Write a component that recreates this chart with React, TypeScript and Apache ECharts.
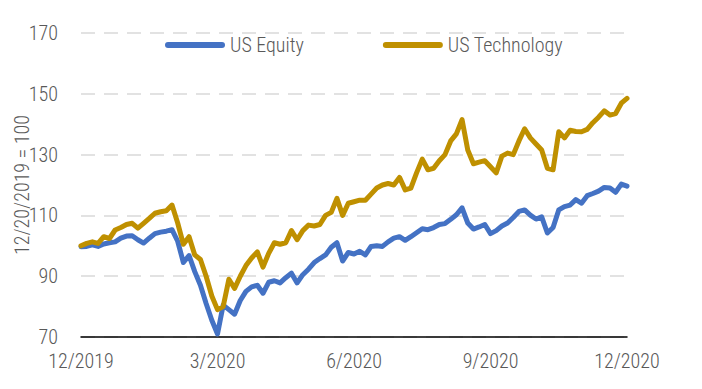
import React, { useEffect, useRef } from "react";
import * as echarts from "echarts";

const tickLabels = ["12/2019", "3/2020", "6/2020", "9/2020", "12/2020"];
const yTicks = [70, 90, 110, 130, 150, 170];

const usEquity = [
  99.7, 99.8, 100.3, 99.8, 100.6, 101, 101.3, 102.5, 103.2, 103.3,
  102, 100.9, 102.5, 104, 104.5, 104.8, 105.3, 101.5, 94.5, 96.8,
  91.5, 87, 81, 75.5, 71, 80.5, 79, 77.5, 82, 85,
  86.5, 87, 84.4, 88, 88.5, 87.8, 89.5, 91, 87.8, 90.5,
  92.3, 94.5, 95.8, 97, 99.5, 101, 95, 97.8, 97.3, 98.2,
  97, 99.8, 100, 99.8, 101.3, 102.5, 103, 101.8, 103, 104.3,
  105.6, 105.3, 106, 107, 107.3, 108.7, 110.2, 112.5, 107.5, 105.5,
  106.2, 107, 104, 105, 106.5, 107.5, 109.3, 111.3, 111.8, 110.1,
  108.8, 109.5, 104.2, 106, 111.8, 112.9, 113.4, 115.2, 114, 116.5,
  117.2, 118, 119.2, 119, 117.6, 120.3, 119.6,
];

const usTechnology = [
  100, 100.8, 101.3, 100.8, 103, 102.4, 105.2, 106, 107, 107.4,
  105.8, 107.4, 109, 110.7, 111.2, 111.5, 113.4, 107.5, 100.5, 103,
  97, 95.5, 90, 83.5, 79, 80, 89, 86, 90, 93.5,
  96, 98, 93, 97.5, 101, 100.5, 101, 105, 102, 105,
  106.8, 106.5, 107, 110, 111, 115.6, 110, 114, 114.5, 115,
  115, 117, 119, 120, 120.5, 120, 122.5, 118.4, 119, 124,
  128.5, 125, 125.5, 128, 130, 134.5, 136.8, 141.5, 131.5, 127,
  127.5, 128, 126, 124, 129.5, 130.5, 130, 134.5, 138.5, 135.5,
  133.5, 131.5, 125.5, 125, 137.5, 135.5, 138, 137.6, 137.5, 138.3,
  140.5, 142.3, 144.4, 143, 143.5, 146.9, 148.5,
];

const seriesNames = ["US Equity", "US Technology"];
const seriesColors = ["#4472C4", "#BF9000"];

const FONT = "'Roboto Condensed', 'Liberation Sans Narrow', 'DejaVu Sans Condensed', 'Roboto', sans-serif";
const TEXT = "#595959";
const FS = 20;
const FW = 300;

export default function App() {
  const ref = useRef<HTMLDivElement>(null);

  useEffect(() => {
    if (!ref.current) return;
    const chart = echarts.init(ref.current, null, { renderer: "svg" });
    const perLabel = (usEquity.length - 1) / (tickLabels.length - 1);
    const categories = usEquity.map((_, i) => String(i));
    const yMin = yTicks[0];
    const yMax = yTicks[yTicks.length - 1];
    const yStep = yTicks[1] - yTicks[0];

    chart.setOption({
      animation: false,
      textStyle: { fontFamily: FONT, fontWeight: FW },
      grid: {
        left: 81,
        right: 75,
        top: 33,
        bottom: 52,
        containLabel: false,
        outerBoundsMode: "none",
      },
      legend: {
        left: 165,
        top: 35,
        padding: 0,
        itemWidth: 60,
        itemHeight: 6,
        itemGap: 79,
        icon: "path://M3,0 L57,0 A3,3 0 0 1 57,6 L3,6 A3,3 0 0 1 3,0 Z",
        textStyle: { fontFamily: FONT, fontSize: FS, fontWeight: FW, color: TEXT },
        data: seriesNames,
      },
      xAxis: {
        type: "category",
        data: categories,
        boundaryGap: false,
        axisLine: { show: true, lineStyle: { color: "#000", width: 1.5 } },
        axisTick: { show: false },
        splitLine: { show: false },
        axisLabel: {
          interval: perLabel - 1,
          margin: 14,
          fontFamily: FONT,
          fontSize: FS,
          fontWeight: FW,
          color: TEXT,
          formatter: (v: string) => {
            const i = Number(v);
            return i % perLabel === 0 ? tickLabels[i / perLabel] : "";
          },
        },
      },
      yAxis: [
        {
          type: "value",
          min: yMin,
          max: yMax,
          show: false,
          splitLine: { show: false },
        },
        {
          type: "value",
          position: "left",
          min: 0,
          max: yMax - yMin,
          interval: yStep,
          name: "12/20/2019 = 100",
          nameLocation: "middle",
          nameGap: 49,
          nameRotate: 90,
          nameMoveOverlap: false,
          nameTextStyle: { fontFamily: FONT, fontSize: FS, fontWeight: FW, color: TEXT },
          axisLine: { show: false },
          axisTick: { show: false },
          axisLabel: {
            margin: 23,
            fontFamily: FONT,
            fontSize: FS,
            fontWeight: FW,
            color: TEXT,
            formatter: (v: number) => String(v + yMin),
          },
          splitLine: {
            show: true,
            lineStyle: { color: "#D9D9D9", width: 1.5, type: [14, 9] },
          },
        },
      ],
      series: [
        {
          name: seriesNames[0],
          type: "line",
          yAxisIndex: 0,
          data: usEquity,
          symbol: "none",
          showSymbol: false,
          color: seriesColors[0],
          lineStyle: { color: seriesColors[0], width: 5, cap: "round", join: "round" },
          z: 3,
        },
        {
          name: seriesNames[1],
          type: "line",
          yAxisIndex: 0,
          data: usTechnology,
          symbol: "none",
          showSymbol: false,
          color: seriesColors[1],
          lineStyle: { color: seriesColors[1], width: 5, cap: "round", join: "round" },
          z: 4,
        },
      ],
    });
    return () => chart.dispose();
  }, []);

  return (
    <div
      ref={ref}
      style={{ position: "fixed", left: 0, top: 0, width: 702, height: 389, background: "#fff" }}
    />
  );
}
